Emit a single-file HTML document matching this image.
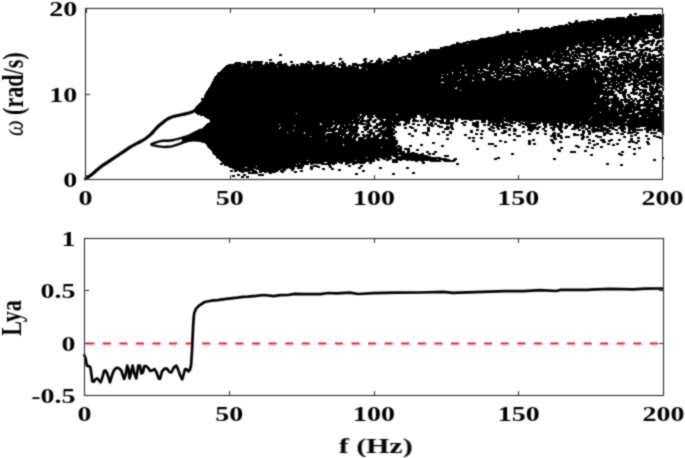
<!DOCTYPE html>
<html><head><meta charset="utf-8"><style>html,body{margin:0;padding:0;background:#fff;width:685px;height:458px;overflow:hidden}svg{display:block}text{font-family:"Liberation Serif",serif}svg{will-change:transform}</style></head><body>
<svg width="685" height="458" viewBox="0 0 685 458" font-family="Liberation Serif" font-weight="bold" fill="#000">
<defs><filter id="soft" x="0" y="0" width="685" height="458" filterUnits="userSpaceOnUse"><feConvolveMatrix order="3" kernelMatrix="1 2 1 2 8 2 1 2 1" divisor="20" edgeMode="none"/></filter></defs>
<rect width="685" height="458" fill="#fff"/>
<g filter="url(#soft)">
<path d="M0 0m634 13h3v1h-3zm-5 1h3v1h-3zm5 0h3v1h-3zm19 0h3v1h-3zm4 0h4v1h-4zm5 0h2v1h-2zm-33 1h3v1h-3zm10 0h25v1h-25zm-12 1h37v1h-37zm-11 1h9v1h-9zm11 0h37v1h-37zm-22 1h59v1h-59zm-9 1h5v1h-5zm8 0h60v1h-60zm-29 1h3v1h-3zm13 0h6v1h-6zm8 0h68v1h-68zm-21 1h3v1h-3zm6 0h83v1h-83zm-13 1h3v1h-3zm6 0h18v1h-18zm19 0h71v1h-71zm-25 1h96v1h-96zm-3 1h3v1h-3zm4 0h95v1h-95zm-11 1h101v1h-101zm102 0h4v1h-4zm-107 1h106v1h-106zm107 0h4v1h-4zm-120 1h3v1h-3zm5 0h4v1h-4zm6 0h108v1h-108zm109 0h4v1h-4zm-121 1h125v1h-125zm-22 1h3v1h-3zm16 0h119v1h-119zm120 0h11v1h-11zm-136 1h3v1h-3zm7 0h121v1h-121zm122 0h18v1h-18zm-140 1h3v1h-3zm15 0h135v1h-135zm138 0h5v1h-5zm-153 1h3v1h-3zm6 0h8v1h-8zm9 0h127v1h-127zm129 0h14v1h-14zm-145 1h143v1h-143zm147 0h12v1h-12zm-151 1h163v1h-163zm-3 1h112v1h-112zm113 0h22v1h-22zm23 0h30v1h-30zm-140 1h140v1h-140zm141 0h13v1h-13zm18 0h11v1h-11zm-166 1h126v1h-126zm127 0h9v1h-9zm10 0h5v1h-5zm7 0h3v1h-3zm4 0h14v1h-14zm18 0h9v1h-9zm-173 1h122v1h-122zm124 0h25v1h-25zm27 0h10v1h-10zm11 0h7v1h-7zm13 0h5v1h-5zm-177 1h150v1h-150zm153 0h14v1h-14zm21 0h3v1h-3zm-181 1h146v1h-146zm148 0h20v1h-20zm22 0h4v1h-4zm6 0h8v1h-8zm10 0h7v1h-7zm-191 1h137v1h-137zm140 0h11v1h-11zm13 0h20v1h-20zm23 0h13v1h-13zm15 0h7v1h-7zm-201 1h3v1h-3zm7 0h130v1h-130zm131 0h10v1h-10zm11 0h11v1h-11zm14 0h7v1h-7zm8 0h10v1h-10zm15 0h8v1h-8zm9 0h3v1h-3zm5 0h4v1h-4zm-200 1h11v1h-11zm12 0h115v1h-115zm116 0h40v1h-40zm41 0h3v1h-3zm4 0h8v1h-8zm15 0h6v1h-6zm7 0h3v1h-3zm5 0h3v1h-3zm7 0h1v1h-1zm-211 1h126v1h-126zm127 0h44v1h-44zm45 0h4v1h-4zm6 0h5v1h-5zm9 0h8v1h-8zm11 0h3v1h-3zm5 0h3v1h-3zm8 0h1v1h-1zm-213 1h128v1h-128zm129 0h25v1h-25zm27 0h22v1h-22zm24 0h5v1h-5zm9 0h6v1h-6zm11 0h3v1h-3zm5 0h3v1h-3zm4 0h3v1h-3zm-215 1h131v1h-131zm136 0h17v1h-17zm21 0h3v1h-3zm5 0h3v1h-3zm5 0h10v1h-10zm12 0h5v1h-5zm8 0h3v1h-3zm9 0h3v1h-3zm19 0h3v1h-3zm-219 1h127v1h-127zm129 0h7v1h-7zm8 0h3v1h-3zm5 0h5v1h-5zm10 0h12v1h-12zm13 0h3v1h-3zm7 0h11v1h-11zm15 0h10v1h-10zm13 0h3v1h-3zm5 0h3v1h-3zm10 0h9v1h-9zm-215 1h127v1h-127zm128 0h35v1h-35zm37 0h5v1h-5zm6 0h4v1h-4zm5 0h7v1h-7zm8 0h13v1h-13zm21 0h6v1h-6zm10 0h9v1h-9zm-226 1h137v1h-137zm139 0h26v1h-26zm27 0h8v1h-8zm12 0h3v1h-3zm4 0h3v1h-3zm4 0h14v1h-14zm18 0h3v1h-3zm5 0h13v1h-13zm15 0h5v1h-5zm6 0h5v1h-5zm-230 1h143v1h-143zm146 0h17v1h-17zm18 0h10v1h-10zm12 0h6v1h-6zm10 0h21v1h-21zm23 0h24v1h-24zm-223 1h5v1h-5zm11 0h100v1h-100zm101 0h27v1h-27zm28 0h14v1h-14zm16 0h16v1h-16zm17 0h3v1h-3zm5 0h4v1h-4zm7 0h3v1h-3zm4 0h7v1h-7zm8 0h4v1h-4zm17 0h9v1h-9zm11 0h4v1h-4zm9 0h4v1h-4zm9 0h3v1h-3zm-243 1h5v1h-5zm7 0h3v1h-3zm4 0h144v1h-144zm145 0h17v1h-17zm18 0h7v1h-7zm15 0h3v1h-3zm6 0h6v1h-6zm11 0h5v1h-5zm14 0h3v1h-3zm4 0h4v1h-4zm5 0h3v1h-3zm14 0h5v1h-5zm-250 1h3v1h-3zm12 0h5v1h-5zm6 0h126v1h-126zm127 0h8v1h-8zm9 0h8v1h-8zm9 0h3v1h-3zm4 0h5v1h-5zm9 0h4v1h-4zm5 0h7v1h-7zm20 0h7v1h-7zm10 0h12v1h-12zm17 0h7v1h-7zm8 0h3v1h-3zm4 0h3v1h-3zm12 0h3v1h-3zm-381 1h3v1h-3zm129 0h3v1h-3zm6 0h3v1h-3zm4 0h159v1h-159zm160 0h3v1h-3zm8 0h10v1h-10zm23 0h3v1h-3zm4 0h3v1h-3zm5 0h13v1h-13zm18 0h11v1h-11zm12 0h3v1h-3zm4 0h3v1h-3zm6 0h6v1h-6zm-379 1h3v1h-3zm115 0h3v1h-3zm12 0h5v1h-5zm8 0h158v1h-158zm159 0h20v1h-20zm22 0h4v1h-4zm23 0h13v1h-13zm15 0h14v1h-14zm15 0h3v1h-3zm4 0h12v1h-12zm-258 1h3v1h-3zm8 0h120v1h-120zm121 0h40v1h-40zm41 0h3v1h-3zm5 0h9v1h-9zm10 0h13v1h-13zm14 0h6v1h-6zm9 0h5v1h-5zm7 0h8v1h-8zm9 0h5v1h-5zm8 0h5v1h-5zm6 0h9v1h-9zm10 0h17v1h-17zm-250 1h6v1h-6zm7 0h8v1h-8zm9 0h128v1h-128zm129 0h34v1h-34zm35 0h3v1h-3zm4 0h4v1h-4zm9 0h3v1h-3zm5 0h10v1h-10zm12 0h15v1h-15zm16 0h7v1h-7zm8 0h9v1h-9zm13 0h6v1h-6zm8 0h9v1h-9zm14 0h3v1h-3zm-322 1h3v1h-3zm25 0h3v1h-3zm14 0h3v1h-3zm14 0h10v1h-10zm12 0h3v1h-3zm7 0h136v1h-136zm139 0h4v1h-4zm5 0h16v1h-16zm17 0h12v1h-12zm13 0h3v1h-3zm5 0h3v1h-3zm7 0h3v1h-3zm9 0h4v1h-4zm6 0h7v1h-7zm8 0h5v1h-5zm6 0h3v1h-3zm4 0h4v1h-4zm6 0h9v1h-9zm10 0h18v1h-18zm-377 1h3v1h-3zm70 0h3v1h-3zm24 0h4v1h-4zm15 0h3v1h-3zm9 0h23v1h-23zm24 0h97v1h-97zm99 0h14v1h-14zm16 0h14v1h-14zm15 0h6v1h-6zm9 0h11v1h-11zm12 0h14v1h-14zm18 0h16v1h-16zm17 0h3v1h-3zm7 0h5v1h-5zm6 0h9v1h-9zm17 0h3v1h-3zm4 0h3v1h-3zm5 0h4v1h-4zm6 0h3v1h-3zm4 0h5v1h-5zm7 0h11v1h-11zm-384 1h3v1h-3zm94 0h3v1h-3zm7 0h3v1h-3zm6 0h6v1h-6zm11 0h137v1h-137zm138 0h3v1h-3zm5 0h9v1h-9zm12 0h5v1h-5zm9 0h28v1h-28zm32 0h13v1h-13zm20 0h6v1h-6zm7 0h3v1h-3zm4 0h3v1h-3zm9 0h3v1h-3zm4 0h5v1h-5zm7 0h6v1h-6zm7 0h11v1h-11zm12 0h3v1h-3zm5 0h6v1h-6zm-411 1h4v1h-4zm6 0h10v1h-10zm26 0h3v1h-3zm11 0h3v1h-3zm17 0h3v1h-3zm9 0h3v1h-3zm25 0h3v1h-3zm23 0h3v1h-3zm6 0h3v1h-3zm6 0h7v1h-7zm8 0h3v1h-3zm6 0h113v1h-113zm114 0h16v1h-16zm18 0h6v1h-6zm8 0h9v1h-9zm10 0h7v1h-7zm8 0h17v1h-17zm18 0h13v1h-13zm19 0h11v1h-11zm15 0h12v1h-12zm13 0h5v1h-5zm8 0h7v1h-7zm8 0h3v1h-3zm5 0h6v1h-6zm7 0h23v1h-23zm-406 1h6v1h-6zm12 0h4v1h-4zm5 0h11v1h-11zm13 0h3v1h-3zm4 0h5v1h-5zm8 0h5v1h-5zm13 0h3v1h-3zm17 0h5v1h-5zm9 0h3v1h-3zm6 0h3v1h-3zm10 0h3v1h-3zm9 0h3v1h-3zm23 0h3v1h-3zm4 0h3v1h-3zm7 0h8v1h-8zm9 0h15v1h-15zm16 0h102v1h-102zm103 0h17v1h-17zm19 0h7v1h-7zm9 0h6v1h-6zm7 0h23v1h-23zm31 0h5v1h-5zm12 0h18v1h-18zm19 0h5v1h-5zm6 0h13v1h-13zm15 0h8v1h-8zm10 0h9v1h-9zm11 0h3v1h-3zm7 0h10v1h-10zm11 0h4v1h-4zm-426 1h12v1h-12zm13 0h4v1h-4zm5 0h10v1h-10zm13 0h3v1h-3zm4 0h6v1h-6zm8 0h5v1h-5zm7 0h3v1h-3zm16 0h4v1h-4zm5 0h3v1h-3zm4 0h3v1h-3zm13 0h3v1h-3zm10 0h3v1h-3zm6 0h3v1h-3zm4 0h4v1h-4zm10 0h5v1h-5zm10 0h20v1h-20zm21 0h119v1h-119zm120 0h5v1h-5zm7 0h11v1h-11zm12 0h7v1h-7zm9 0h3v1h-3zm7 0h14v1h-14zm17 0h9v1h-9zm15 0h4v1h-4zm5 0h3v1h-3zm6 0h9v1h-9zm10 0h8v1h-8zm10 0h4v1h-4zm6 0h12v1h-12zm16 0h18v1h-18zm19 0h5v1h-5zm6 0h16v1h-16zm-420 1h35v1h-35zm36 0h23v1h-23zm27 0h4v1h-4zm5 0h3v1h-3zm4 0h13v1h-13zm16 0h9v1h-9zm14 0h3v1h-3zm8 0h8v1h-8zm14 0h136v1h-136zm138 0h13v1h-13zm15 0h3v1h-3zm5 0h4v1h-4zm6 0h5v1h-5zm6 0h4v1h-4zm9 0h3v1h-3zm10 0h9v1h-9zm17 0h20v1h-20zm23 0h4v1h-4zm5 0h14v1h-14zm15 0h4v1h-4zm5 0h17v1h-17zm18 0h17v1h-17zm19 0h21v1h-21zm-417 1h16v1h-16zm17 0h45v1h-45zm48 0h4v1h-4zm5 0h3v1h-3zm4 0h25v1h-25zm26 0h10v1h-10zm12 0h8v1h-8zm10 0h3v1h-3zm4 0h110v1h-110zm112 0h24v1h-24zm25 0h14v1h-14zm15 0h3v1h-3zm4 0h8v1h-8zm10 0h7v1h-7zm8 0h4v1h-4zm5 0h3v1h-3zm10 0h9v1h-9zm12 0h3v1h-3zm6 0h21v1h-21zm22 0h19v1h-19zm20 0h4v1h-4zm5 0h6v1h-6zm8 0h26v1h-26zm28 0h22v1h-22zm-417 1h52v1h-52zm53 0h53v1h-53zm54 0h4v1h-4zm9 0h6v1h-6zm7 0h7v1h-7zm8 0h3v1h-3zm4 0h128v1h-128zm129 0h27v1h-27zm32 0h4v1h-4zm5 0h5v1h-5zm7 0h3v1h-3zm9 0h7v1h-7zm11 0h9v1h-9zm12 0h15v1h-15zm16 0h3v1h-3zm4 0h15v1h-15zm23 0h32v1h-32zm33 0h23v1h-23zm-417 1h27v1h-27zm28 0h87v1h-87zm89 0h18v1h-18zm21 0h138v1h-138zm140 0h3v1h-3zm4 0h15v1h-15zm16 0h10v1h-10zm11 0h3v1h-3zm5 0h13v1h-13zm15 0h9v1h-9zm10 0h11v1h-11zm12 0h6v1h-6zm7 0h18v1h-18zm22 0h4v1h-4zm5 0h30v1h-30zm32 0h23v1h-23zm-418 1h89v1h-89zm90 0h46v1h-46zm48 0h154v1h-154zm155 0h5v1h-5zm6 0h20v1h-20zm22 0h15v1h-15zm19 0h10v1h-10zm14 0h15v1h-15zm16 0h3v1h-3zm4 0h6v1h-6zm7 0h13v1h-13zm14 0h4v1h-4zm5 0h41v1h-41zm-401 1h144v1h-144zm145 0h111v1h-111zm113 0h3v1h-3zm6 0h32v1h-32zm34 0h3v1h-3zm5 0h17v1h-17zm20 0h4v1h-4zm5 0h4v1h-4zm6 0h16v1h-16zm17 0h3v1h-3zm4 0h15v1h-15zm16 0h3v1h-3zm5 0h5v1h-5zm6 0h60v1h-60zm-383 1h244v1h-244zm245 0h19v1h-19zm23 0h13v1h-13zm14 0h41v1h-41zm44 0h3v1h-3zm4 0h3v1h-3zm5 0h43v1h-43zm44 0h30v1h-30zm31 0h33v1h-33zm-411 1h273v1h-273zm275 0h25v1h-25zm26 0h9v1h-9zm10 0h3v1h-3zm4 0h9v1h-9zm10 0h8v1h-8zm9 0h9v1h-9zm10 0h36v1h-36zm38 0h8v1h-8zm10 0h38v1h-38zm40 0h4v1h-4zm6 0h6v1h-6zm-440 1h234v1h-234zm235 0h7v1h-7zm8 0h17v1h-17zm18 0h3v1h-3zm4 0h22v1h-22zm23 0h3v1h-3zm5 0h19v1h-19zm20 0h36v1h-36zm38 0h42v1h-42zm43 0h10v1h-10zm12 0h8v1h-8zm9 0h23v1h-23zm24 0h7v1h-7zm-440 1h235v1h-235zm236 0h27v1h-27zm28 0h14v1h-14zm15 0h51v1h-51zm52 0h7v1h-7zm8 0h9v1h-9zm11 0h48v1h-48zm49 0h18v1h-18zm20 0h28v1h-28zm-419 1h225v1h-225zm226 0h4v1h-4zm5 0h17v1h-17zm19 0h24v1h-24zm25 0h3v1h-3zm4 0h18v1h-18zm24 0h83v1h-83zm84 0h4v1h-4zm6 0h5v1h-5zm6 0h10v1h-10zm11 0h8v1h-8zm9 0h28v1h-28zm-420 1h250v1h-250zm251 0h6v1h-6zm7 0h17v1h-17zm20 0h8v1h-8zm10 0h15v1h-15zm17 0h6v1h-6zm7 0h75v1h-75zm76 0h4v1h-4zm7 0h6v1h-6zm9 0h27v1h-27zm28 0h16v1h-16zm-433 1h290v1h-290zm296 0h48v1h-48zm49 0h47v1h-47zm52 0h6v1h-6zm7 0h13v1h-13zm14 0h10v1h-10zm11 0h16v1h-16zm17 0h3v1h-3zm-447 1h227v1h-227zm229 0h51v1h-51zm53 0h10v1h-10zm11 0h40v1h-40zm41 0h61v1h-61zm62 0h22v1h-22zm23 0h25v1h-25zm28 0h3v1h-3zm-447 1h268v1h-268zm270 0h17v1h-17zm18 0h64v1h-64zm65 0h27v1h-27zm28 0h33v1h-33zm34 0h4v1h-4zm5 0h3v1h-3zm4 0h19v1h-19zm20 0h4v1h-4zm5 0h1v1h-1zm-450 1h247v1h-247zm248 0h22v1h-22zm24 0h14v1h-14zm16 0h12v1h-12zm13 0h52v1h-52zm54 0h60v1h-60zm62 0h14v1h-14zm16 0h18v1h-18zm-433 1h245v1h-245zm246 0h13v1h-13zm15 0h9v1h-9zm10 0h111v1h-111zm112 0h13v1h-13zm14 0h31v1h-31zm33 0h21v1h-21zm-431 1h383v1h-383zm384 0h20v1h-20zm21 0h4v1h-4zm5 0h9v1h-9zm11 0h6v1h-6zm8 0h6v1h-6zm9 0h14v1h-14zm-438 1h229v1h-229zm232 0h151v1h-151zm152 0h9v1h-9zm11 0h23v1h-23zm26 0h31v1h-31zm-422 1h392v1h-392zm396 0h4v1h-4zm5 0h6v1h-6zm7 0h6v1h-6zm11 0h7v1h-7zm8 0h5v1h-5zm6 0h11v1h-11zm12 0h3v1h-3zm4 0h4v1h-4zm-449 1h405v1h-405zm406 0h8v1h-8zm11 0h23v1h-23zm24 0h3v1h-3zm4 0h3v1h-3zm4 0h4v1h-4zm-450 1h416v1h-416zm418 0h3v1h-3zm5 0h6v1h-6zm8 0h6v1h-6zm8 0h3v1h-3zm7 0h4v1h-4zm6 0h2v1h-2zm-452 1h399v1h-399zm402 0h8v1h-8zm9 0h5v1h-5zm12 0h5v1h-5zm8 0h7v1h-7zm8 0h5v1h-5zm6 0h7v1h-7zm-446 1h247v1h-247zm248 0h148v1h-148zm150 0h17v1h-17zm26 0h6v1h-6zm10 0h5v1h-5zm6 0h5v1h-5zm6 0h7v1h-7zm8 0h1v1h-1zm-455 1h247v1h-247zm249 0h160v1h-160zm162 0h5v1h-5zm13 0h3v1h-3zm4 0h4v1h-4zm13 0h11v1h-11zm13 0h2v1h-2zm-454 1h395v1h-395zm397 0h3v1h-3zm6 0h3v1h-3zm4 0h3v1h-3zm4 0h4v1h-4zm5 0h3v1h-3zm8 0h15v1h-15zm17 0h9v1h-9zm13 0h2v1h-2zm-455 1h253v1h-253zm254 0h146v1h-146zm147 0h5v1h-5zm7 0h8v1h-8zm9 0h3v1h-3zm8 0h5v1h-5zm7 0h8v1h-8zm10 0h12v1h-12zm13 0h2v1h-2zm-456 1h409v1h-409zm411 0h4v1h-4zm5 0h5v1h-5zm10 0h3v1h-3zm10 0h5v1h-5zm8 0h13v1h-13zm-444 1h409v1h-409zm412 0h9v1h-9zm12 0h8v1h-8zm9 0h10v1h-10zm11 0h13v1h-13zm-445 1h409v1h-409zm414 0h7v1h-7zm11 0h8v1h-8zm9 0h3v1h-3zm4 0h13v1h-13zm15 0h5v1h-5zm-453 1h412v1h-412zm417 0h4v1h-4zm5 0h3v1h-3zm6 0h4v1h-4zm5 0h3v1h-3zm5 0h12v1h-12zm16 0h3v1h-3zm-455 1h396v1h-396zm399 0h14v1h-14zm19 0h4v1h-4zm5 0h3v1h-3zm11 0h3v1h-3zm4 0h3v1h-3zm4 0h3v1h-3zm4 0h4v1h-4zm5 0h9v1h-9zm-451 1h396v1h-396zm398 0h3v1h-3zm4 0h3v1h-3zm7 0h4v1h-4zm10 0h3v1h-3zm5 0h3v1h-3zm12 0h5v1h-5zm9 0h15v1h-15zm-445 1h396v1h-396zm397 0h8v1h-8zm12 0h6v1h-6zm10 0h3v1h-3zm5 0h3v1h-3zm12 0h5v1h-5zm6 0h14v1h-14zm16 0h2v1h-2zm-461 1h408v1h-408zm409 0h9v1h-9zm14 0h3v1h-3zm6 0h3v1h-3zm4 0h3v1h-3zm8 0h3v1h-3zm4 0h5v1h-5zm6 0h9v1h-9zm10 0h2v1h-2zm-461 1h418v1h-418zm419 0h13v1h-13zm14 0h3v1h-3zm5 0h7v1h-7zm9 0h3v1h-3zm5 0h11v1h-11zm-451 1h403v1h-403zm404 0h13v1h-13zm14 0h10v1h-10zm12 0h3v1h-3zm4 0h28v1h-28zm-435 1h409v1h-409zm410 0h11v1h-11zm13 0h11v1h-11zm12 0h5v1h-5zm8 0h13v1h-13zm15 0h5v1h-5zm-459 1h423v1h-423zm424 0h10v1h-10zm13 0h3v1h-3zm7 0h5v1h-5zm6 0h8v1h-8zm9 0h5v1h-5zm-460 1h395v1h-395zm397 0h27v1h-27zm32 0h8v1h-8zm9 0h3v1h-3zm6 0h15v1h-15zm16 0h4v1h-4zm-461 1h412v1h-412zm414 0h12v1h-12zm13 0h29v1h-29zm34 0h5v1h-5zm-462 1h411v1h-411zm414 0h13v1h-13zm14 0h10v1h-10zm11 0h19v1h-19zm23 0h5v1h-5zm-463 1h413v1h-413zm415 0h31v1h-31zm32 0h13v1h-13zm16 0h5v1h-5zm-464 1h445v1h-445zm451 0h18v1h-18zm-451 1h422v1h-422zm423 0h5v1h-5zm6 0h17v1h-17zm19 0h8v1h-8zm10 0h11v1h-11zm-458 1h414v1h-414zm415 0h7v1h-7zm8 0h14v1h-14zm15 0h31v1h-31zm-438 1h422v1h-422zm423 0h43v1h-43zm-423 1h440v1h-440zm444 0h12v1h-12zm13 0h12v1h-12zm-457 1h405v1h-405zm406 0h34v1h-34zm36 0h27v1h-27zm-441 1h100v1h-100zm101 0h332v1h-332zm335 0h32v1h-32zm-435 1h163v1h-163zm165 0h34v1h-34zm36 0h29v1h-29zm30 0h230v1h-230zm231 0h5v1h-5zm-459 1h160v1h-160zm161 0h5v1h-5zm6 0h6v1h-6zm8 0h42v1h-42zm45 0h199v1h-199zm202 0h17v1h-17zm19 0h17v1h-17zm18 0h5v1h-5zm-455 1h161v1h-161zm163 0h7v1h-7zm8 0h42v1h-42zm45 0h219v1h-219zm221 0h23v1h-23zm-436 1h153v1h-153zm154 0h5v1h-5zm8 0h7v1h-7zm9 0h41v1h-41zm45 0h170v1h-170zm171 0h55v1h-55zm56 0h16v1h-16zm-441 1h157v1h-157zm162 0h3v1h-3zm8 0h34v1h-34zm35 0h3v1h-3zm9 0h3v1h-3zm4 0h10v1h-10zm15 0h14v1h-14zm15 0h4v1h-4zm5 0h44v1h-44zm45 0h159v1h-159zm-296 1h151v1h-151zm152 0h3v1h-3zm6 0h5v1h-5zm7 0h3v1h-3zm4 0h5v1h-5zm8 0h25v1h-25zm27 0h3v1h-3zm12 0h12v1h-12zm16 0h3v1h-3zm5 0h8v1h-8zm9 0h3v1h-3zm6 0h128v1h-128zm129 0h37v1h-37zm39 0h35v1h-35zm-419 1h142v1h-142zm143 0h19v1h-19zm20 0h4v1h-4zm7 0h4v1h-4zm5 0h25v1h-25zm27 0h7v1h-7zm8 0h3v1h-3zm6 0h4v1h-4zm5 0h13v1h-13zm15 0h4v1h-4zm9 0h3v1h-3zm14 0h4v1h-4zm12 0h5v1h-5zm7 0h176v1h-176zm-278 1h123v1h-123zm124 0h25v1h-25zm26 0h10v1h-10zm12 0h4v1h-4zm8 0h12v1h-12zm13 0h7v1h-7zm11 0h6v1h-6zm8 0h7v1h-7zm8 0h3v1h-3zm6 0h3v1h-3zm6 0h3v1h-3zm5 0h7v1h-7zm9 0h4v1h-4zm9 0h3v1h-3zm9 0h3v1h-3zm12 0h3v1h-3zm5 0h5v1h-5zm7 0h16v1h-16zm17 0h8v1h-8zm10 0h6v1h-6zm7 0h142v1h-142zm-313 1h154v1h-154zm157 0h4v1h-4zm6 0h4v1h-4zm7 0h20v1h-20zm26 0h5v1h-5zm21 0h3v1h-3zm4 0h3v1h-3zm9 0h15v1h-15zm22 0h6v1h-6zm11 0h7v1h-7zm9 0h5v1h-5zm7 0h16v1h-16zm20 0h8v1h-8zm10 0h5v1h-5zm7 0h16v1h-16zm17 0h38v1h-38zm39 0h29v1h-29zm30 0h14v1h-14zm16 0h37v1h-37zm-420 1h113v1h-113zm114 0h45v1h-45zm46 0h3v1h-3zm9 0h25v1h-25zm28 0h6v1h-6zm8 0h3v1h-3zm14 0h3v1h-3zm4 0h3v1h-3zm4 0h3v1h-3zm6 0h14v1h-14zm21 0h3v1h-3zm11 0h7v1h-7zm16 0h3v1h-3zm4 0h3v1h-3zm4 0h5v1h-5zm6 0h6v1h-6zm8 0h6v1h-6zm10 0h11v1h-11zm16 0h5v1h-5zm7 0h5v1h-5zm6 0h8v1h-8zm10 0h4v1h-4zm6 0h47v1h-47zm48 0h51v1h-51zm-407 1h73v1h-73zm74 0h40v1h-40zm42 0h27v1h-27zm28 0h3v1h-3zm5 0h4v1h-4zm5 0h11v1h-11zm16 0h25v1h-25zm27 0h4v1h-4zm9 0h3v1h-3zm5 0h3v1h-3zm6 0h3v1h-3zm5 0h5v1h-5zm6 0h3v1h-3zm12 0h3v1h-3zm4 0h3v1h-3zm13 0h3v1h-3zm9 0h7v1h-7zm11 0h3v1h-3zm4 0h3v1h-3zm5 0h8v1h-8zm10 0h9v1h-9zm16 0h3v1h-3zm4 0h17v1h-17zm21 0h4v1h-4zm6 0h9v1h-9zm10 0h4v1h-4zm9 0h3v1h-3zm6 0h90v1h-90zm-369 1h89v1h-89zm90 0h38v1h-38zm40 0h3v1h-3zm5 0h4v1h-4zm5 0h8v1h-8zm10 0h3v1h-3zm11 0h6v1h-6zm9 0h6v1h-6zm7 0h13v1h-13zm14 0h5v1h-5zm7 0h3v1h-3zm14 0h3v1h-3zm6 0h3v1h-3zm5 0h6v1h-6zm9 0h3v1h-3zm13 0h3v1h-3zm13 0h3v1h-3zm9 0h7v1h-7zm11 0h3v1h-3zm4 0h3v1h-3zm5 0h21v1h-21zm26 0h3v1h-3zm7 0h12v1h-12zm18 0h4v1h-4zm6 0h14v1h-14zm16 0h6v1h-6zm9 0h11v1h-11zm14 0h16v1h-16zm17 0h59v1h-59zm-401 1h129v1h-129zm130 0h3v1h-3zm5 0h19v1h-19zm24 0h9v1h-9zm10 0h5v1h-5zm9 0h14v1h-14zm27 0h3v1h-3zm22 0h3v1h-3zm6 0h6v1h-6zm9 0h3v1h-3zm4 0h3v1h-3zm24 0h5v1h-5zm16 0h3v1h-3zm6 0h9v1h-9zm14 0h3v1h-3zm12 0h3v1h-3zm5 0h9v1h-9zm11 0h3v1h-3zm6 0h3v1h-3zm9 0h10v1h-10zm12 0h3v1h-3zm8 0h9v1h-9zm10 0h3v1h-3zm5 0h15v1h-15zm18 0h6v1h-6zm7 0h4v1h-4zm7 0h5v1h-5zm7 0h37v1h-37zm-424 1h77v1h-77zm78 0h50v1h-50zm52 0h4v1h-4zm6 0h20v1h-20zm24 0h6v1h-6zm10 0h5v1h-5zm7 0h5v1h-5zm6 0h6v1h-6zm7 0h3v1h-3zm11 0h3v1h-3zm5 0h5v1h-5zm18 0h3v1h-3zm12 0h4v1h-4zm7 0h7v1h-7zm30 0h3v1h-3zm14 0h5v1h-5zm6 0h3v1h-3zm5 0h6v1h-6zm21 0h3v1h-3zm5 0h14v1h-14zm17 0h3v1h-3zm6 0h6v1h-6zm7 0h6v1h-6zm7 0h4v1h-4zm9 0h7v1h-7zm8 0h5v1h-5zm7 0h3v1h-3zm4 0h3v1h-3zm5 0h9v1h-9zm12 0h5v1h-5zm9 0h8v1h-8zm10 0h12v1h-12zm18 0h18v1h-18zm-444 1h77v1h-77zm78 0h47v1h-47zm48 0h14v1h-14zm15 0h16v1h-16zm21 0h5v1h-5zm9 0h12v1h-12zm13 0h8v1h-8zm18 0h3v1h-3zm7 0h3v1h-3zm16 0h3v1h-3zm17 0h6v1h-6zm7 0h3v1h-3zm37 0h3v1h-3zm4 0h3v1h-3zm5 0h3v1h-3zm4 0h6v1h-6zm7 0h3v1h-3zm5 0h3v1h-3zm15 0h11v1h-11zm14 0h3v1h-3zm8 0h5v1h-5zm8 0h4v1h-4zm6 0h3v1h-3zm7 0h8v1h-8zm10 0h3v1h-3zm4 0h6v1h-6zm7 0h7v1h-7zm8 0h15v1h-15zm18 0h8v1h-8zm10 0h8v1h-8zm16 0h20v1h-20zm-444 1h147v1h-147zm148 0h10v1h-10zm16 0h5v1h-5zm6 0h3v1h-3zm8 0h4v1h-4zm7 0h10v1h-10zm29 0h3v1h-3zm13 0h3v1h-3zm17 0h5v1h-5zm7 0h3v1h-3zm25 0h3v1h-3zm12 0h4v1h-4zm9 0h3v1h-3zm11 0h3v1h-3zm5 0h4v1h-4zm14 0h8v1h-8zm9 0h3v1h-3zm6 0h3v1h-3zm10 0h3v1h-3zm6 0h4v1h-4zm13 0h5v1h-5zm7 0h3v1h-3zm7 0h3v1h-3zm6 0h18v1h-18zm21 0h6v1h-6zm8 0h6v1h-6zm8 0h15v1h-15zm16 0h8v1h-8zm9 0h3v1h-3zm5 0h6v1h-6zm-459 1h94v1h-94zm95 0h42v1h-42zm44 0h20v1h-20zm26 0h3v1h-3zm5 0h4v1h-4zm6 0h20v1h-20zm39 0h3v1h-3zm13 0h3v1h-3zm43 0h3v1h-3zm6 0h3v1h-3zm5 0h3v1h-3zm8 0h6v1h-6zm14 0h4v1h-4zm5 0h3v1h-3zm5 0h4v1h-4zm14 0h6v1h-6zm17 0h3v1h-3zm8 0h3v1h-3zm7 0h4v1h-4zm19 0h3v1h-3zm4 0h3v1h-3zm5 0h3v1h-3zm4 0h20v1h-20zm24 0h3v1h-3zm6 0h3v1h-3zm7 0h3v1h-3zm4 0h11v1h-11zm14 0h6v1h-6zm7 0h3v1h-3zm4 0h7v1h-7zm-458 1h136v1h-136zm139 0h10v1h-10zm11 0h9v1h-9zm12 0h3v1h-3zm6 0h5v1h-5zm8 0h18v1h-18zm19 0h3v1h-3zm20 0h3v1h-3zm13 0h3v1h-3zm15 0h3v1h-3zm7 0h3v1h-3zm21 0h3v1h-3zm11 0h3v1h-3zm11 0h3v1h-3zm11 0h4v1h-4zm10 0h3v1h-3zm9 0h3v1h-3zm8 0h3v1h-3zm14 0h3v1h-3zm16 0h3v1h-3zm22 0h3v1h-3zm5 0h4v1h-4zm5 0h12v1h-12zm14 0h5v1h-5zm15 0h5v1h-5zm7 0h3v1h-3zm4 0h4v1h-4zm14 0h3v1h-3zm11 0h7v1h-7zm-458 1h88v1h-88zm89 0h16v1h-16zm17 0h21v1h-21zm27 0h14v1h-14zm17 0h8v1h-8zm12 0h3v1h-3zm6 0h8v1h-8zm13 0h17v1h-17zm42 0h6v1h-6zm20 0h3v1h-3zm7 0h3v1h-3zm21 0h3v1h-3zm31 0h6v1h-6zm21 0h3v1h-3zm14 0h3v1h-3zm17 0h3v1h-3zm7 0h3v1h-3zm22 0h3v1h-3zm6 0h3v1h-3zm4 0h3v1h-3zm11 0h6v1h-6zm13 0h3v1h-3zm7 0h3v1h-3zm4 0h12v1h-12zm19 0h3v1h-3zm4 0h7v1h-7zm11 0h3v1h-3zm-462 1h105v1h-105zm106 0h21v1h-21zm22 0h19v1h-19zm21 0h11v1h-11zm21 0h6v1h-6zm9 0h17v1h-17zm30 0h3v1h-3zm14 0h6v1h-6zm15 0h3v1h-3zm12 0h3v1h-3zm26 0h3v1h-3zm5 0h3v1h-3zm14 0h3v1h-3zm7 0h4v1h-4zm12 0h3v1h-3zm15 0h3v1h-3zm8 0h3v1h-3zm8 0h3v1h-3zm8 0h4v1h-4zm5 0h3v1h-3zm16 0h3v1h-3zm9 0h3v1h-3zm6 0h3v1h-3zm15 0h10v1h-10zm13 0h3v1h-3zm4 0h4v1h-4zm7 0h6v1h-6zm9 0h3v1h-3zm14 0h7v1h-7zm12 0h2v1h-2zm-462 1h125v1h-125zm126 0h34v1h-34zm36 0h3v1h-3zm4 0h9v1h-9zm11 0h18v1h-18zm31 0h3v1h-3zm18 0h3v1h-3zm11 0h3v1h-3zm9 0h3v1h-3zm18 0h3v1h-3zm11 0h3v1h-3zm5 0h3v1h-3zm14 0h3v1h-3zm14 0h3v1h-3zm5 0h3v1h-3zm15 0h3v1h-3zm16 0h3v1h-3zm8 0h4v1h-4zm5 0h3v1h-3zm16 0h6v1h-6zm7 0h4v1h-4zm8 0h3v1h-3zm15 0h3v1h-3zm6 0h4v1h-4zm11 0h4v1h-4zm14 0h3v1h-3zm28 0h2v1h-2zm-462 1h140v1h-140zm141 0h12v1h-12zm13 0h6v1h-6zm8 0h9v1h-9zm11 0h8v1h-8zm9 0h11v1h-11zm29 0h3v1h-3zm15 0h3v1h-3zm20 0h3v1h-3zm18 0h3v1h-3zm30 0h3v1h-3zm14 0h3v1h-3zm8 0h5v1h-5zm34 0h6v1h-6zm7 0h5v1h-5zm16 0h6v1h-6zm7 0h4v1h-4zm15 0h3v1h-3zm8 0h3v1h-3zm27 0h3v1h-3zm4 0h3v1h-3zm11 0h3v1h-3zm8 0h3v1h-3zm-453 1h110v1h-110zm111 0h32v1h-32zm33 0h8v1h-8zm9 0h5v1h-5zm10 0h8v1h-8zm10 0h8v1h-8zm9 0h13v1h-13zm29 0h3v1h-3zm105 0h5v1h-5zm34 0h6v1h-6zm7 0h5v1h-5zm8 0h5v1h-5zm17 0h3v1h-3zm4 0h3v1h-3zm9 0h7v1h-7zm28 0h3v1h-3zm7 0h3v1h-3zm15 0h3v1h-3zm8 0h7v1h-7zm-453 1h143v1h-143zm144 0h8v1h-8zm9 0h4v1h-4zm5 0h8v1h-8zm9 0h4v1h-4zm5 0h7v1h-7zm10 0h3v1h-3zm4 0h10v1h-10zm82 0h3v1h-3zm4 0h3v1h-3zm8 0h3v1h-3zm73 0h3v1h-3zm7 0h3v1h-3zm5 0h5v1h-5zm16 0h4v1h-4zm5 0h3v1h-3zm11 0h5v1h-5zm26 0h3v1h-3zm14 0h3v1h-3zm19 0h6v1h-6zm-456 1h156v1h-156zm158 0h6v1h-6zm8 0h13v1h-13zm15 0h5v1h-5zm7 0h8v1h-8zm58 0h3v1h-3zm22 0h3v1h-3zm4 0h3v1h-3zm8 0h3v1h-3zm73 0h4v1h-4zm7 0h3v1h-3zm21 0h3v1h-3zm49 0h3v1h-3zm7 0h3v1h-3zm10 0h3v1h-3zm12 0h3v1h-3zm-458 1h155v1h-155zm157 0h38v1h-38zm88 0h3v1h-3zm67 0h3v1h-3zm19 0h3v1h-3zm18 0h3v1h-3zm4 0h3v1h-3zm27 0h3v1h-3zm7 0h3v1h-3zm12 0h5v1h-5zm10 0h3v1h-3zm8 0h3v1h-3zm12 0h3v1h-3zm17 0h3v1h-3zm-446 1h125v1h-125zm126 0h29v1h-29zm31 0h40v1h-40zm114 0h3v1h-3zm27 0h3v1h-3zm14 0h3v1h-3zm15 0h3v1h-3zm4 0h3v1h-3zm18 0h4v1h-4zm38 0h3v1h-3zm4 0h3v1h-3zm8 0h5v1h-5zm8 0h5v1h-5zm10 0h3v1h-3zm12 0h3v1h-3zm7 0h3v1h-3zm-435 1h196v1h-196zm270 0h3v1h-3zm27 0h3v1h-3zm5 0h3v1h-3zm24 0h3v1h-3zm23 0h3v1h-3zm8 0h3v1h-3zm33 0h3v1h-3zm10 0h4v1h-4zm6 0h3v1h-3zm20 0h7v1h-7zm9 0h3v1h-3zm9 0h3v1h-3zm-443 1h195v1h-195zm229 0h3v1h-3zm72 0h3v1h-3zm24 0h3v1h-3zm24 0h3v1h-3zm7 0h3v1h-3zm29 0h3v1h-3zm14 0h4v1h-4zm26 0h3v1h-3zm4 0h6v1h-6zm14 0h3v1h-3zm-441 1h193v1h-193zm227 0h3v1h-3zm56 0h6v1h-6zm40 0h3v1h-3zm5 0h3v1h-3zm19 0h3v1h-3zm36 0h3v1h-3zm8 0h3v1h-3zm11 0h3v1h-3zm9 0h3v1h-3zm19 0h3v1h-3zm12 0h3v1h-3zm-441 1h137v1h-137zm138 0h53v1h-53zm76 0h3v1h-3zm68 0h6v1h-6zm40 0h3v1h-3zm5 0h3v1h-3zm60 0h6v1h-6zm14 0h3v1h-3zm5 0h3v1h-3zm4 0h3v1h-3zm31 0h3v1h-3zm-440 1h136v1h-136zm137 0h52v1h-52zm53 0h3v1h-3zm12 0h3v1h-3zm11 0h3v1h-3zm21 0h3v1h-3zm53 0h3v1h-3zm81 0h3v1h-3zm18 0h3v1h-3zm19 0h3v1h-3zm-405 1h195v1h-195zm202 0h3v1h-3zm32 0h3v1h-3zm53 0h3v1h-3zm81 0h5v1h-5zm11 0h3v1h-3zm14 0h3v1h-3zm28 0h3v1h-3zm-420 1h173v1h-173zm174 0h16v1h-16zm17 0h3v1h-3zm161 0h3v1h-3zm17 0h3v1h-3zm9 0h3v1h-3zm5 0h3v1h-3zm9 0h3v1h-3zm28 0h3v1h-3zm10 0h3v1h-3zm-429 1h193v1h-193zm195 0h6v1h-6zm72 0h3v1h-3zm84 0h3v1h-3zm31 0h3v1h-3zm42 0h3v1h-3zm5 0h3v1h-3zm-428 1h192v1h-192zm194 0h6v1h-6zm12 0h3v1h-3zm60 0h3v1h-3zm81 0h3v1h-3zm76 0h3v1h-3zm-422 1h191v1h-191zm196 0h3v1h-3zm9 0h3v1h-3zm141 0h4v1h-4zm27 0h3v1h-3zm-372 1h193v1h-193zm195 0h3v1h-3zm19 0h3v1h-3zm8 0h3v1h-3zm124 0h3v1h-3zm12 0h6v1h-6zm14 0h3v1h-3zm37 0h3v1h-3zm-409 1h186v1h-186zm187 0h6v1h-6zm8 0h3v1h-3zm4 0h4v1h-4zm15 0h3v1h-3zm8 0h3v1h-3zm136 0h6v1h-6zm51 0h3v1h-3zm-408 1h205v1h-205zm208 0h3v1h-3zm7 0h3v1h-3zm4 0h3v1h-3zm79 0h3v1h-3zm107 0h3v1h-3zm15 0h3v1h-3zm-420 1h211v1h-211zm215 0h3v1h-3zm4 0h3v1h-3zm79 0h3v1h-3zm79 0h3v1h-3zm28 0h5v1h-5zm15 0h3v1h-3zm-418 1h183v1h-183zm186 0h27v1h-27zm43 0h5v1h-5zm146 0h3v1h-3zm30 0h3v1h-3zm-404 1h175v1h-175zm177 0h38v1h-38zm51 0h5v1h-5zm-228 1h150v1h-150zm151 0h25v1h-25zm28 0h46v1h-46zm102 0h3v1h-3zm165 0h2v1h-2zm-445 1h162v1h-162zm164 0h5v1h-5zm6 0h5v1h-5zm9 0h51v1h-51zm58 0h3v1h-3zm40 0h6v1h-6zm59 0h3v1h-3zm109 0h2v1h-2zm-443 1h156v1h-156zm157 0h4v1h-4zm7 0h8v1h-8zm9 0h45v1h-45zm46 0h12v1h-12zm15 0h4v1h-4zm41 0h3v1h-3zm59 0h3v1h-3zm100 0h3v1h-3zm-433 1h87v1h-87zm88 0h47v1h-47zm48 0h19v1h-19zm21 0h3v1h-3zm9 0h3v1h-3zm6 0h6v1h-6zm7 0h3v1h-3zm7 0h3v1h-3zm4 0h31v1h-31zm32 0h14v1h-14zm211 0h3v1h-3zm-432 1h154v1h-154zm171 0h6v1h-6zm23 0h3v1h-3zm6 0h3v1h-3zm9 0h11v1h-11zm14 0h11v1h-11zm-222 1h102v1h-102zm105 0h10v1h-10zm11 0h5v1h-5zm7 0h21v1h-21zm24 0h3v1h-3zm23 0h6v1h-6zm30 0h3v1h-3zm-202 1h79v1h-79zm80 0h9v1h-9zm10 0h27v1h-27zm30 0h3v1h-3zm5 0h5v1h-5zm7 0h6v1h-6zm7 0h6v1h-6zm10 0h3v1h-3zm53 0h3v1h-3zm34 0h3v1h-3zm150 0h3v1h-3zm-386 1h3v1h-3zm4 0h72v1h-72zm73 0h12v1h-12zm13 0h3v1h-3zm11 0h10v1h-10zm11 0h3v1h-3zm13 0h3v1h-3zm7 0h3v1h-3zm104 0h3v1h-3zm150 0h3v1h-3zm14 0h3v1h-3zm-396 1h80v1h-80zm89 0h5v1h-5zm15 0h3v1h-3zm20 0h3v1h-3zm12 0h3v1h-3zm260 0h3v1h-3zm-392 1h28v1h-28zm29 0h47v1h-47zm53 0h10v1h-10zm19 0h3v1h-3zm19 0h3v1h-3zm12 0h3v1h-3zm-131 1h16v1h-16zm18 0h48v1h-48zm50 0h6v1h-6zm13 0h3v1h-3zm7 0h3v1h-3zm12 0h3v1h-3zm29 0h3v1h-3zm21 0h3v1h-3zm27 0h3v1h-3zm-174 1h56v1h-56zm57 0h6v1h-6zm8 0h6v1h-6zm13 0h3v1h-3zm12 0h3v1h-3zm9 0h3v1h-3zm27 0h3v1h-3zm21 0h3v1h-3zm27 0h3v1h-3zm-172 1h20v1h-20zm22 0h25v1h-25zm26 0h4v1h-4zm9 0h3v1h-3zm19 0h3v1h-3zm12 0h3v1h-3zm9 0h3v1h-3zm7 0h3v1h-3zm-108 1h3v1h-3zm4 0h22v1h-22zm25 0h20v1h-20zm21 0h6v1h-6zm11 0h3v1h-3zm9 0h3v1h-3zm38 0h3v1h-3zm24 0h3v1h-3zm-132 1h3v1h-3zm4 0h3v1h-3zm5 0h11v1h-11zm13 0h5v1h-5zm7 0h19v1h-19zm21 0h4v1h-4zm14 0h3v1h-3zm6 0h3v1h-3zm62 0h3v1h-3zm-121 1h3v1h-3zm7 0h10v1h-10zm11 0h3v1h-3zm5 0h3v1h-3zm4 0h8v1h-8zm13 0h3v1h-3zm13 0h3v1h-3zm118 0h3v1h-3zm-164 1h10v1h-10zm21 0h3v1h-3zm86 0h3v1h-3zm37 0h3v1h-3zm20 0h3v1h-3zm-175 1h3v1h-3zm6 0h3v1h-3zm15 0h6v1h-6zm97 0h3v1h-3zm37 0h3v1h-3zm-160 1h3v1h-3zm5 0h3v1h-3zm6 0h3v1h-3zm15 0h6v1h-6zm-26 1h3v1h-3zm9 0h3v1h-3zm5 0h3v1h-3zm-5 1h3v1h-3zm5 0h3v1h-3z" fill="#000" shape-rendering="crispEdges"/>
<path d="M85.40,178.90 C86.17,178.38 88.40,177.00 90.00,175.80 C91.60,174.60 93.17,173.22 95.00,171.70 C96.83,170.18 99.00,168.20 101.00,166.70 C103.00,165.20 105.00,164.03 107.00,162.70 C109.00,161.37 110.50,160.37 113.00,158.70 C115.50,157.03 119.00,154.70 122.00,152.70 C125.00,150.70 128.33,148.33 131.00,146.70 C133.67,145.07 135.67,144.18 138.00,142.90 C140.33,141.62 142.83,140.45 145.00,139.00 C147.17,137.55 149.37,135.72 151.00,134.20 C152.63,132.68 153.63,131.18 154.80,129.90 C155.97,128.62 156.80,127.62 158.00,126.50 C159.20,125.38 160.77,124.20 162.00,123.20 C163.23,122.20 164.23,121.32 165.40,120.50 C166.57,119.68 167.55,119.00 169.00,118.30 C170.45,117.60 172.40,116.82 174.10,116.30 C175.80,115.78 177.50,115.57 179.20,115.20 C180.90,114.83 182.72,114.47 184.30,114.10 C185.88,113.73 187.37,113.37 188.70,113.00 C190.03,112.63 191.08,112.50 192.30,111.90 C193.52,111.30 194.72,110.43 196.00,109.40 C197.28,108.37 198.83,107.02 200.00,105.70 C201.17,104.38 202.50,102.20 203.00,101.50" fill="none" stroke="#000" stroke-width="3.2" stroke-linecap="round" stroke-linejoin="round"/>
<path d="M150.60,144.60 C151.13,144.35 152.48,143.58 153.80,143.10 C155.12,142.62 156.93,142.08 158.50,141.70 C160.07,141.32 161.63,140.97 163.20,140.80 C164.77,140.63 166.35,140.80 167.90,140.70 C169.45,140.60 170.95,140.47 172.50,140.20 C174.05,139.93 175.63,139.48 177.20,139.10 C178.77,138.72 180.10,138.40 181.90,137.90 C183.70,137.40 186.15,136.82 188.00,136.10 C189.85,135.38 191.50,134.35 193.00,133.60 C194.50,132.85 195.67,132.28 197.00,131.60 C198.33,130.92 200.33,129.85 201.00,129.50" fill="none" stroke="#000" stroke-width="2.4" stroke-linejoin="round"/>
<path d="M150.60,144.60 C151.13,144.72 152.48,145.00 153.80,145.30 C155.12,145.60 156.93,146.13 158.50,146.40 C160.07,146.67 161.63,146.83 163.20,146.90 C164.77,146.97 166.35,146.93 167.90,146.80 C169.45,146.67 170.95,146.47 172.50,146.10 C174.05,145.73 175.63,145.15 177.20,144.60 C178.77,144.05 180.10,143.43 181.90,142.80 C183.70,142.17 186.15,141.27 188.00,140.80 C189.85,140.33 191.23,140.10 193.00,140.00 C194.77,139.90 196.93,139.95 198.60,140.20 C200.27,140.45 202.27,141.28 203.00,141.50" fill="none" stroke="#000" stroke-width="2.4" stroke-linejoin="round"/>
<polygon points="181.9,136.7 188.0,134.9 193.0,132.4 197.0,130.4 201.0,128.3 203.0,142.7 198.6,141.4 193.0,141.2 188.0,142.0 181.9,144.0" fill="#000"/>
<rect x="85.5" y="8.5" width="577.0" height="171.0" fill="none" stroke="#2a2a2a" stroke-width="1.1"/>
<path d="M86.5,179.5 V175.0 M86.5,8.5 V13.0" stroke="#2a2a2a" stroke-width="1"/>
<path d="M230.5,179.5 V175.0 M230.5,8.5 V13.0" stroke="#2a2a2a" stroke-width="1"/>
<path d="M374.5,179.5 V175.0 M374.5,8.5 V13.0" stroke="#2a2a2a" stroke-width="1"/>
<path d="M518.5,179.5 V175.0 M518.5,8.5 V13.0" stroke="#2a2a2a" stroke-width="1"/>
<path d="M662.5,179.5 V175.0 M662.5,8.5 V13.0" stroke="#2a2a2a" stroke-width="1"/>
<path d="M85.5,179.5 H90.0 M662.5,179.5 H658.0" stroke="#2a2a2a" stroke-width="1"/>
<path d="M85.5,94.5 H90.0 M662.5,94.5 H658.0" stroke="#2a2a2a" stroke-width="1"/>
<path d="M85.5,8.5 H90.0 M662.5,8.5 H658.0" stroke="#2a2a2a" stroke-width="1"/>
<line x1="86.2" y1="343.4" x2="662" y2="343.4" stroke="#f01414" stroke-width="2" stroke-dasharray="8 8.58"/>
<polyline points="83.9,354.3 85.4,357.8 86.4,362.7 86.9,365.6 88.8,366.1 90.3,367.1 91.3,373.5 92.3,381.3 93.8,381.8 95.2,379.4 97.2,378.4 99.2,380.4 100.6,382.3 102.1,378.4 104.1,371.0 105.5,370.5 107.0,373.0 108.5,377.4 110.0,382.3 111.4,377.4 113.4,371.5 115.4,368.6 117.3,367.8 119.3,368.6 121.3,370.5 123.2,376.4 124.2,378.9 125.7,374.5 127.2,365.6 128.6,369.6 129.6,378.4 131.1,372.5 132.6,365.6 134.0,372.5 136.3,378.4 138.2,365.6 139.9,365.6 141.4,373.5 142.9,372.5 144.3,366.1 146.3,366.1 148.3,368.1 150.2,371.0 152.2,370.5 154.6,369.1 156.6,372.5 158.6,378.4 160.0,378.9 162.0,371.5 164.5,368.6 166.9,368.6 169.4,372.0 171.3,372.5 173.8,367.6 176.3,365.6 178.2,369.6 180.2,375.5 182.2,379.4 183.6,374.5 185.1,369.1 187.1,369.6 188.5,371.5 190.0,369.6 191.0,365.6 191.5,358.8 192.0,350.9 192.3,343.0 192.6,337.4 193.1,326.9 193.8,316.4 194.4,312.5 196.1,308.6 199.4,305.3 204.7,302.0 211.2,300.7 217.8,300.1 224.3,299.1 230.9,298.4 237.4,297.7 242.6,296.8 248.0,296.6 256.0,295.9 264.1,295.0 273.7,296.2 280.1,295.1 288.2,295.0 294.6,293.8 304.2,294.2 312.3,294.0 320.3,294.2 328.3,293.0 336.4,293.4 350.0,292.6 358.2,294.0 373.4,293.2 396.7,292.7 420.1,292.5 443.4,291.8 452.8,292.8 466.8,292.3 490.2,291.6 505.0,291.2 523.7,291.2 540.0,290.2 556.4,291.0 561.0,289.8 586.8,289.8 610.1,288.9 633.5,289.3 645.2,288.6 663.0,288.5" fill="none" stroke="#000" stroke-width="2.7" stroke-linejoin="round"/>
<rect x="84.5" y="238.5" width="579.0" height="157.0" fill="none" stroke="#2a2a2a" stroke-width="1.1"/>
<path d="M84.5,395.5 V391.0 M84.5,238.5 V243.0" stroke="#2a2a2a" stroke-width="1"/>
<path d="M229.5,395.5 V391.0 M229.5,238.5 V243.0" stroke="#2a2a2a" stroke-width="1"/>
<path d="M374.5,395.5 V391.0 M374.5,238.5 V243.0" stroke="#2a2a2a" stroke-width="1"/>
<path d="M518.5,395.5 V391.0 M518.5,238.5 V243.0" stroke="#2a2a2a" stroke-width="1"/>
<path d="M663.5,395.5 V391.0 M663.5,238.5 V243.0" stroke="#2a2a2a" stroke-width="1"/>
<path d="M84.5,395.5 H89.0 M663.5,395.5 H659.0" stroke="#2a2a2a" stroke-width="1"/>
<path d="M84.5,343.5 H89.0 M663.5,343.5 H659.0" stroke="#2a2a2a" stroke-width="1"/>
<path d="M84.5,290.5 H89.0 M663.5,290.5 H659.0" stroke="#2a2a2a" stroke-width="1"/>
<path d="M84.5,238.5 H89.0 M663.5,238.5 H659.0" stroke="#2a2a2a" stroke-width="1"/>
<text transform="translate(77.20 16.10) scale(1.400 1)" text-anchor="end" font-size="20" >20</text>
<text transform="translate(77.20 101.70) scale(1.400 1)" text-anchor="end" font-size="20" >10</text>
<text transform="translate(77.20 187.10) scale(1.400 1)" text-anchor="end" font-size="20" >0</text>
<text transform="translate(85.50 204.50) scale(1.400 1)" text-anchor="middle" font-size="20" >0</text>
<text transform="translate(229.75 204.50) scale(1.400 1)" text-anchor="middle" font-size="20" >50</text>
<text transform="translate(374.00 204.50) scale(1.400 1)" text-anchor="middle" font-size="20" >100</text>
<text transform="translate(518.25 204.50) scale(1.400 1)" text-anchor="middle" font-size="20" >150</text>
<text transform="translate(662.50 204.50) scale(1.400 1)" text-anchor="middle" font-size="20" >200</text>
<text transform="translate(75.50 403.10) scale(1.400 1)" text-anchor="end" font-size="20" >-0.5</text>
<text transform="translate(75.50 350.77) scale(1.400 1)" text-anchor="end" font-size="20" >0</text>
<text transform="translate(75.50 298.43) scale(1.400 1)" text-anchor="end" font-size="20" >0.5</text>
<text transform="translate(75.50 246.10) scale(1.400 1)" text-anchor="end" font-size="20" >1</text>
<text transform="translate(84.50 420.80) scale(1.400 1)" text-anchor="middle" font-size="20" >0</text>
<text transform="translate(229.25 420.80) scale(1.400 1)" text-anchor="middle" font-size="20" >50</text>
<text transform="translate(374.00 420.80) scale(1.400 1)" text-anchor="middle" font-size="20" >100</text>
<text transform="translate(518.75 420.80) scale(1.400 1)" text-anchor="middle" font-size="20" >150</text>
<text transform="translate(663.50 420.80) scale(1.400 1)" text-anchor="middle" font-size="20" >200</text>
<text transform="translate(375.70 452.70) scale(1.360 1)" text-anchor="middle" font-size="22" >f (Hz)</text>
<text transform="translate(23.00 94.20) scale(1.330 1) rotate(-90)" text-anchor="middle" font-size="22.1" ><tspan font-style="italic" font-weight="normal">&#969;</tspan> (rad/s)</text>
<text transform="translate(20.70 318.00) scale(1.310 1) rotate(-90)" text-anchor="middle" font-size="22" >Lya</text></g>
</svg>
</body></html>
